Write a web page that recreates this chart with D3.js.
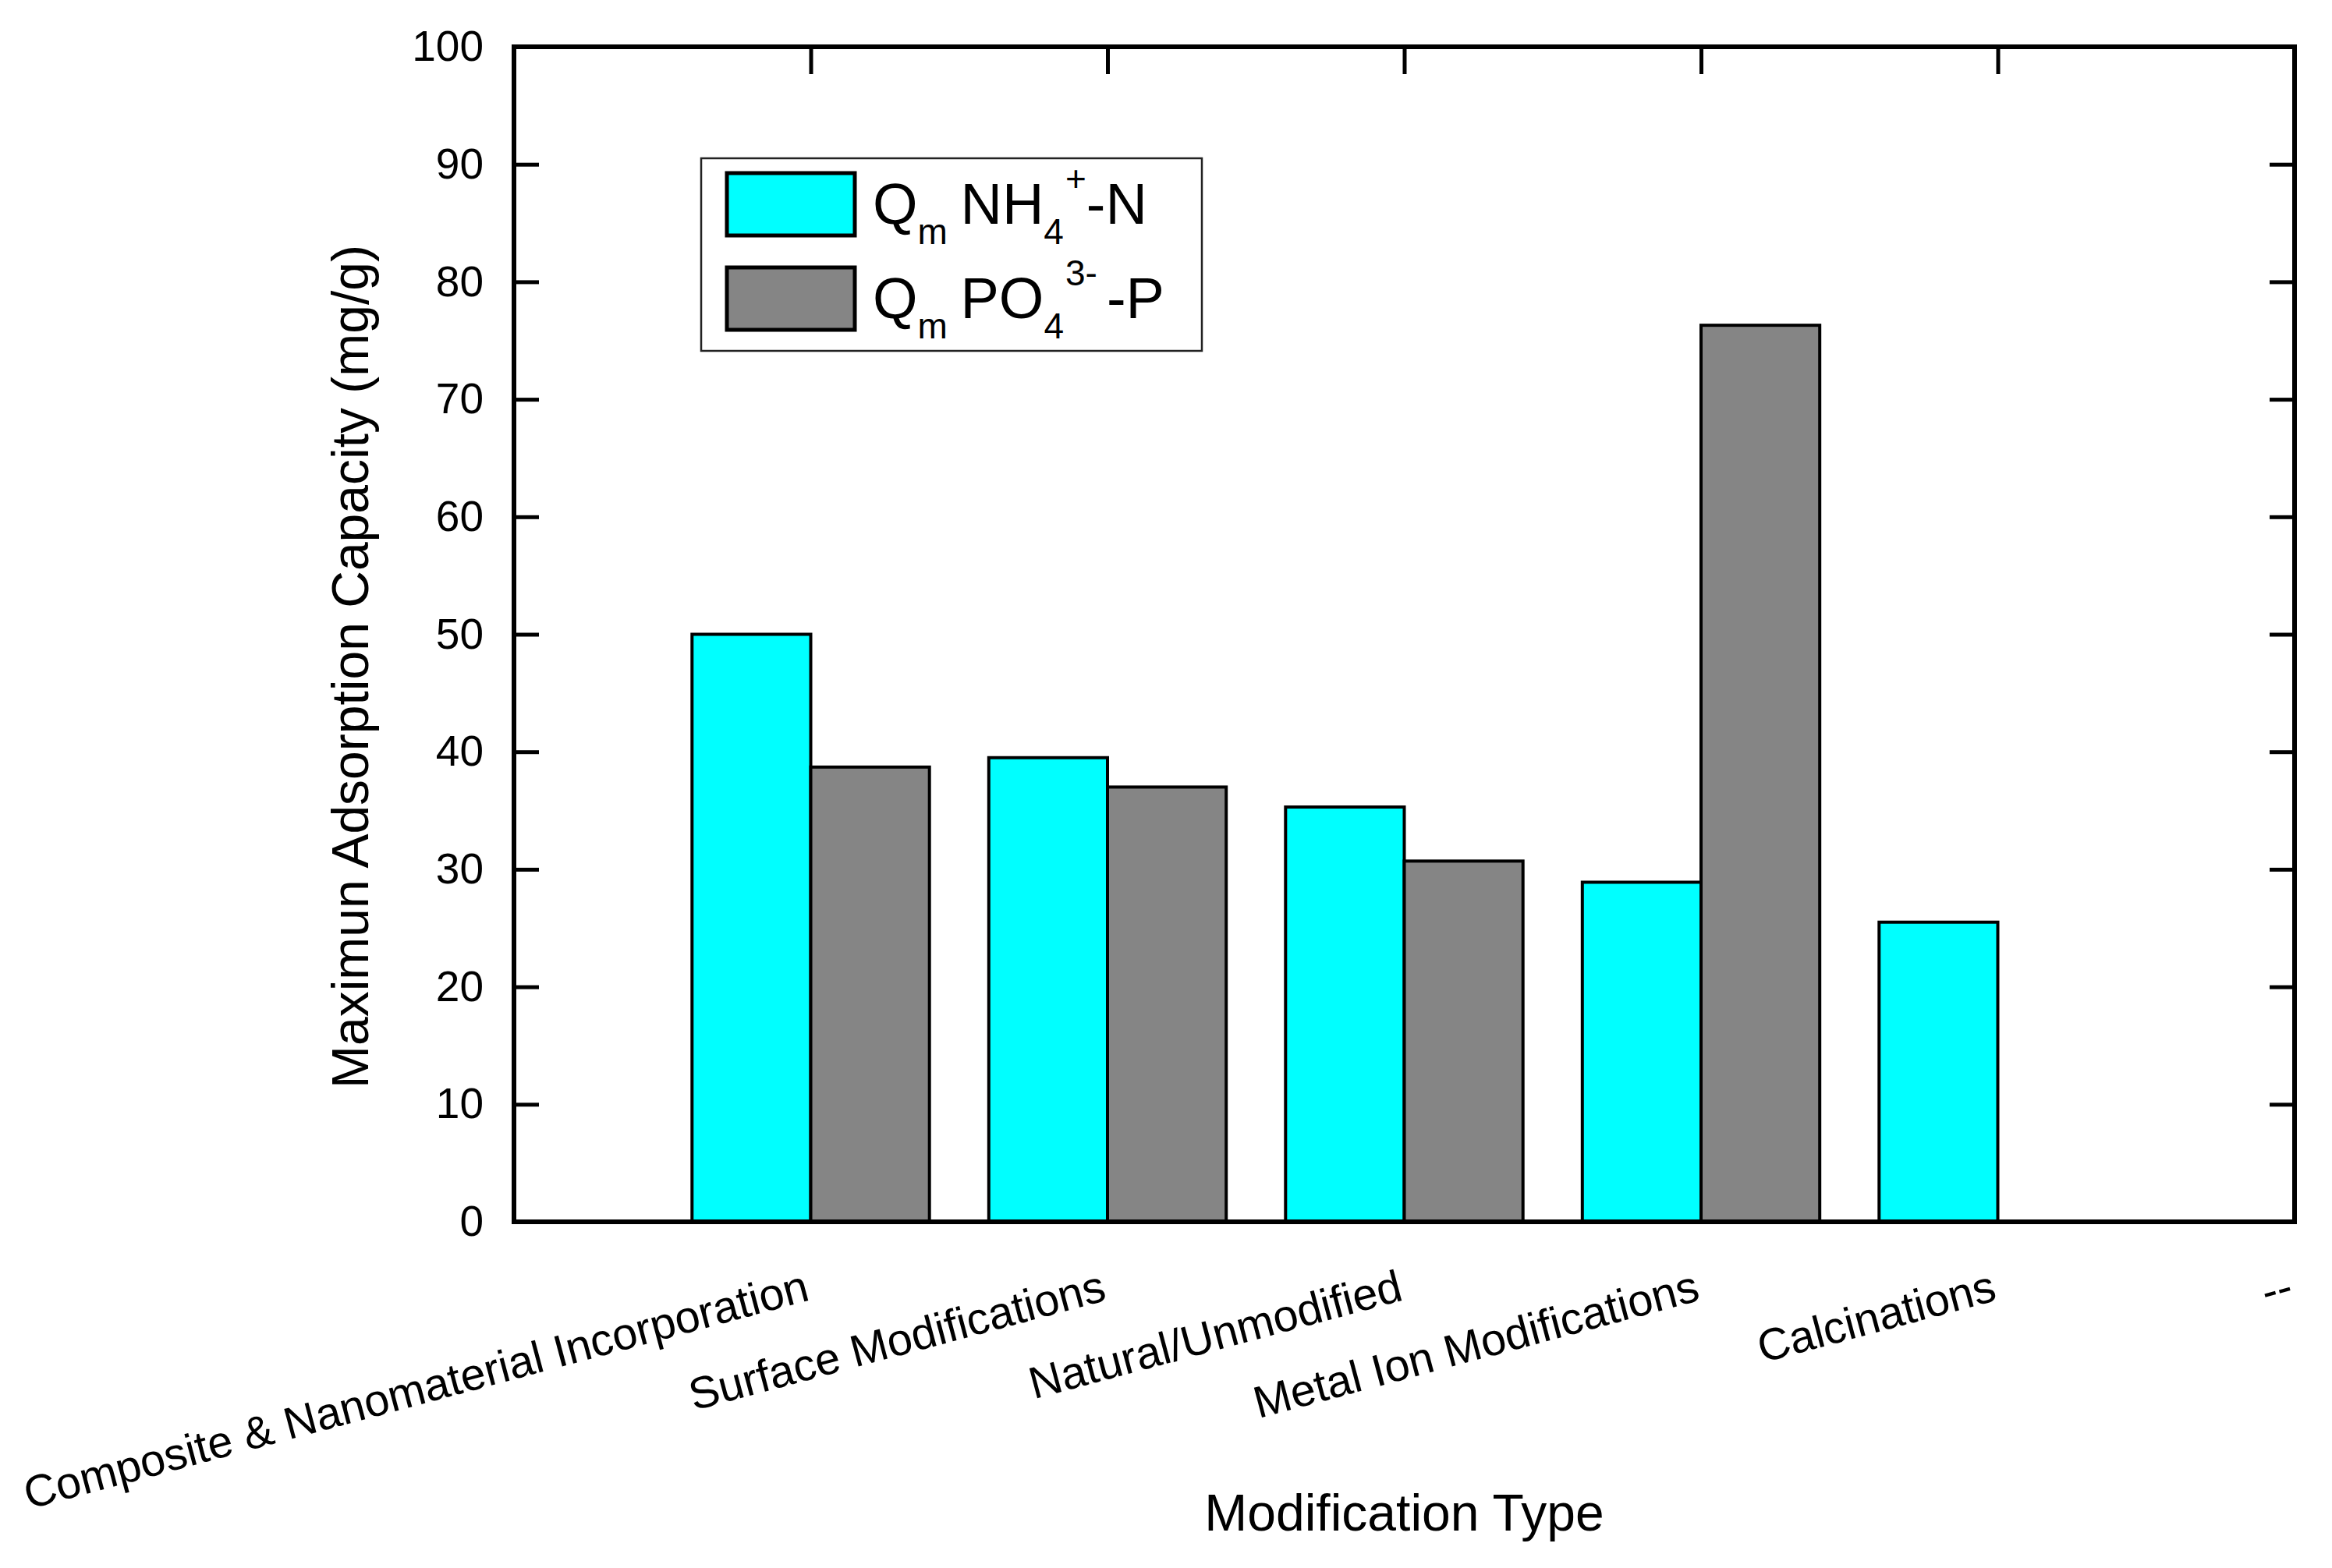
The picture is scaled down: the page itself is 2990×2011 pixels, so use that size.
<!DOCTYPE html>
<html>
<head>
<meta charset="utf-8">
<script src="https://cdn.jsdelivr.net/npm/d3@7"></script>
<style>
  body { margin: 0; background: #fff; }
  svg { display: block; }
  text { font-family: "Liberation Sans", Arial, sans-serif; fill: #000; }
</style>
</head>
<body>
<div id="chart"></div>
<script>
'use strict'

// Data
const categories = ['Composite & Nanomaterial Incorporation', 'Surface Modifications',
  'Natural/Unmodified', 'Metal Ion Modifications', 'Calcinations', '--']
const qm_nh4 = [50.0, 39.5, 35.3, 28.9, 25.5, null]
const qm_po4 = [38.7, 37.0, 30.7, 76.3, null, null]
const y_ticks = [0, 10, 20, 30, 40, 50, 60, 70, 80, 90, 100]

const W = 2990, H = 2011
const margin = {top: 60, right: 48, bottom: 444, left: 659}
const x0 = margin.left, x1 = W - margin.right
const y0 = H - margin.bottom, y1 = margin.top

const svg = d3.select('#chart').append('svg')
  .attr('width', W)
  .attr('height', H)

// category i sits at x(i+1), bars take 0.4 of the spacing each side
const x = d3.scaleLinear()
  .domain([0, categories.length])
  .range([x0, x1])

const y = d3.scaleLinear()
  .domain([0, 100])
  .range([y0, y1])

const bw = x(0.4) - x(0)

// Bars
//-------
const series = [
  {vals: qm_nh4, color: '#00ffff', off: -1},
  {vals: qm_po4, color: '#858585', off: 0}
]
series.forEach( s => {
  svg.append('g').selectAll('rect')
    .data( s.vals.map( (v, i) => [i, v]).filter( d => d[1] != null))
    .enter().append('rect')
    .attr('x', d => x(d[0] + 1) + s.off * bw)
    .attr('y', d => y(d[1]))
    .attr('width', bw)
    .attr('height', d => y(0) - y(d[1]))
    .style('fill', s.color)
    .style('stroke', '#000')
    .style('stroke-width', 4)
})

// Axes (ticks point inward)
//---------------------------
const tick_style = g => {
  g.select('.domain').remove()
  g.selectAll('.tick line').attr('stroke', '#000').attr('stroke-width', 5)
}

svg.append('g')
  .attr('transform', 'translate(' + x0 + ',0)')
  .call( d3.axisLeft(y).tickValues(y_ticks).tickSize(-32).tickPadding(39))
  .call( tick_style)
  .selectAll('text')
  .style('font-size', '55px')
  .style('font-family', '"Liberation Sans", Arial, sans-serif')

svg.append('g')
  .attr('transform', 'translate(' + x1 + ',0)')
  .call( d3.axisRight(y).tickValues(y_ticks).tickSize(-32).tickFormat(''))
  .call( tick_style)

svg.append('g')
  .attr('transform', 'translate(0,' + y1 + ')')
  .call( d3.axisTop(x).tickValues([1, 2, 3, 4, 5]).tickSize(-35).tickFormat(''))
  .call( tick_style)

// bottom axis: rotated category labels
svg.append('g')
  .attr('transform', 'translate(0,' + y0 + ')')
  .call( d3.axisBottom(x)
    .tickValues( d3.range(1, categories.length + 1))
    .tickFormat( i => categories[i - 1])
    .tickSize(0))
  .call( g => g.select('.domain').remove())
  .selectAll('text')
  .attr('x', 0)
  .attr('y', 0)
  .attr('dy', 0)
  .attr('text-anchor', 'end')
  .attr('transform', 'translate(0,100) rotate(-15)')
  .style('font-size', '57.5px')
  .style('font-family', '"Liberation Sans", Arial, sans-serif')

// Frame
svg.append('rect')
  .attr('x', x0)
  .attr('y', y1)
  .attr('width', x1 - x0)
  .attr('height', y0 - y1)
  .style('fill', 'none')
  .style('stroke', '#000')
  .style('stroke-width', 6)

// Axis titles
//-------------
svg.append('text')
  .attr('x', (x0 + x1) / 2)
  .attr('y', 1963)
  .attr('text-anchor', 'middle')
  .style('font-size', '66px')
  .text('Modification Type')

svg.append('text')
  .attr('transform', 'translate(472,855) rotate(-90)')
  .attr('text-anchor', 'middle')
  .style('font-size', '66px')
  .text('Maximun Adsorption Capacity (mg/g)')

// Legend
//--------
const lg = svg.append('g').attr('transform', 'translate(899,203)')
lg.append('rect')
  .attr('width', 642)
  .attr('height', 247)
  .style('fill', '#fff')
  .style('stroke', '#222')
  .style('stroke-width', 2.5)

const legend_rows = [
  {color: '#00ffff', ion: 'NH', sup: '+', tail: '-N'},
  {color: '#858585', ion: 'PO', sup: '3-', tail: '-P'}
]
legend_rows.forEach( (r, i) => {
  lg.append('rect')
    .attr('x', 33)
    .attr('y', 19 + i * 121)
    .attr('width', 164)
    .attr('height', 80)
    .style('fill', r.color)
    .style('stroke', '#000')
    .style('stroke-width', 5)

  const t = lg.append('text')
    .attr('x', 220)
    .attr('y', 84 + i * 121)
    .style('font-size', '74px')
  t.append('tspan').text('Q')
  t.append('tspan').attr('dy', 26).style('font-size', '46px').text('m')
  t.append('tspan').attr('dy', -26).attr('dx', -4).text('\u00a0' + r.ion)
  t.append('tspan').attr('dy', 26).style('font-size', '46px').text('4')
  t.append('tspan').attr('dy', -68).attr('dx', 2).style('font-size', '46px').text(r.sup)
  t.append('tspan').attr('dy', 42).attr('dx', i == 1 ? 12 : 0).text(r.tail)
})
</script>
</body>
</html>
